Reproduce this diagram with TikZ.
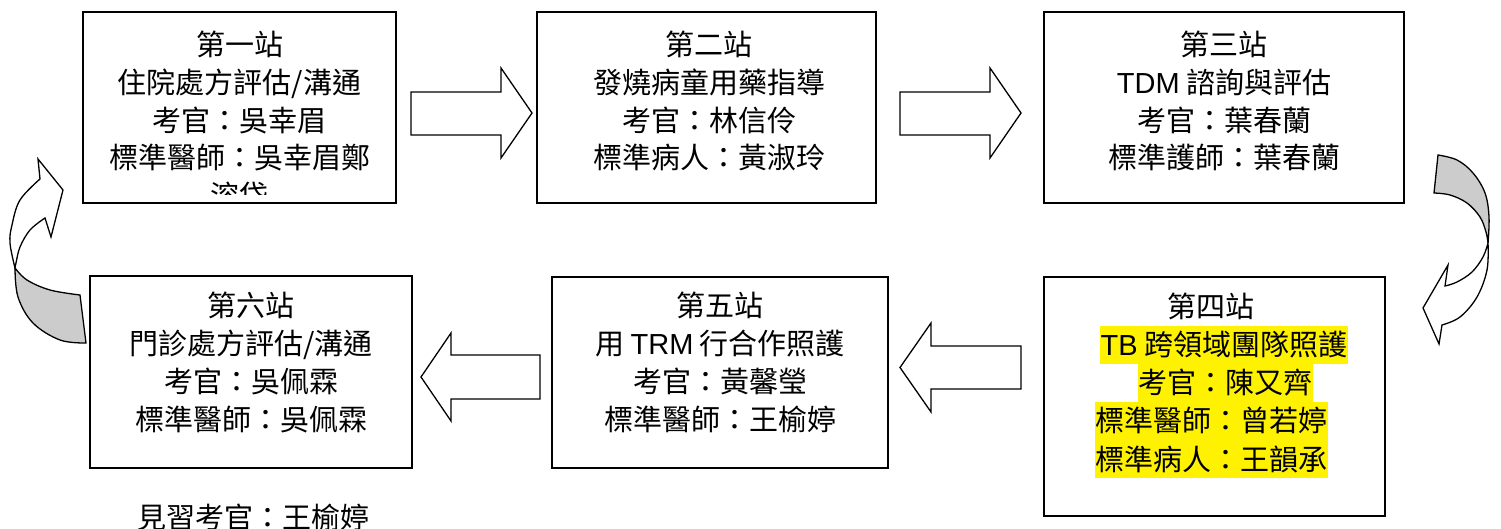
\documentclass[tikz,border=0pt]{standalone}
\usepackage{fontspec}
\setmainfont{Liberation Sans}
\newfontfamily\cjk{Noto Sans CJK TC}
\newfontfamily\latf{Liberation Sans}
\newcommand\lat[1]{{\latf #1}}
\tikzset{
  stationbox/.style={draw,line width=1.6pt,inner sep=0pt},
  ln/.style={anchor=base,inner sep=0pt,font=\cjk\fontsize{29pt}{35pt}\selectfont},
  hl/.style={ln,fill=yellow,inner xsep=0.5pt,inner ysep=0pt,text height=30pt,text depth=8pt},
  blockarrow/.style={draw,fill=white,line width=1.3pt,line join=miter},
  curvewhite/.style={draw,fill=white,line width=1.3pt,line join=miter},
  curvegray/.style={draw,fill=black!20,line width=1.3pt,line join=miter}
}
\begin{document}
\begin{tikzpicture}[x=1pt,y=-1pt]
\useasboundingbox (0,0) rectangle (1501,529);
\fill[white] (0,0) rectangle (1501,529);

% station boxes
\node[stationbox,minimum width=313pt,minimum height=191pt] (b1) at (239.5,107.5) {};
\node[stationbox,minimum width=339pt,minimum height=191pt] (b2) at (706.5,107.5) {};
\node[stationbox,minimum width=360pt,minimum height=191pt] (b3) at (1224,107.5) {};
\node[stationbox,minimum width=322pt,minimum height=192pt] (b6) at (251,372) {};
\node[stationbox,minimum width=336pt,minimum height=191pt] (b5) at (720,372.5) {};
\node[stationbox,minimum width=341pt,minimum height=239pt] (b4) at (1214.5,396.5) {};

% station 1
\node[ln] (s1a) at (239.5,56) {第一站};
\node[ln] (s1b) at (239.5,94) {住院處方評估/溝通};
\node[ln] (s1c) at (239.5,132) {考官：吳幸眉};
\node[ln] (s1d) at (239.5,169) {標準醫師：吳幸眉鄭};
\begin{scope}
\clip (84,13) rectangle (395,195);
\node[ln] (s1e) at (239.5,207) {溶岱};
\end{scope}

% station 2
\node[ln] (s2a) at (709,56) {第二站};
\node[ln] (s2b) at (709,94) {發燒病童用藥指導};
\node[ln] (s2c) at (709,132) {考官：林信伶};
\node[ln] (s2d) at (709,169) {標準病人：黃淑玲};

% station 3
\node[ln] (s3a) at (1224,56) {第三站};
\node[ln] (s3b) at (1224,94) {\lat{TDM} 諮詢與評估};
\node[ln] (s3c) at (1224,132) {考官：葉春蘭};
\node[ln] (s3d) at (1224,169) {標準護師：葉春蘭};

% station 4
\node[ln] (s4a) at (1211,317) {第四站};
\node[hl] (s4b) at (1224,355.5) {\lat{TB} 跨領域團隊照護};
\node[hl] (s4c) at (1225,393.5) {考官：陳又齊};
\node[hl] (s4d) at (1211,431.5) {標準醫師：曾若婷};
\node[hl] (s4e) at (1211,470) {標準病人：王韻承};

% station 5
\node[ln] (s5a) at (720,316) {第五站};
\node[ln] (s5b) at (720,354) {用 \lat{TRM} 行合作照護};
\node[ln] (s5c) at (720,392) {考官：黃馨瑩};
\node[ln] (s5d) at (720,430) {標準醫師：王榆婷};

% station 6
\node[ln] (s6a) at (251,316) {第六站};
\node[ln] (s6b) at (251,354) {門診處方評估/溝通};
\node[ln] (s6c) at (251,392) {考官：吳佩霖};
\node[ln] (s6d) at (251,430) {標準醫師：吳佩霖};

% trainee examiner
\node[ln] (note) at (253,528) {見習考官：王榆婷};

% block arrows
\draw[blockarrow] (411,92) -- (501,92) -- (501,68) -- (532,113) -- (501,158) -- (501,135) -- (411,135) -- cycle;
\draw[blockarrow] (900,92) -- (990,92) -- (990,68) -- (1021,113) -- (990,158) -- (990,135) -- (900,135) -- cycle;
\draw[blockarrow] (1021,346) -- (931,346) -- (931,323) -- (900,367.5) -- (931,412) -- (931,389) -- (1021,389) -- cycle;
\draw[blockarrow] (540,355) -- (451,355) -- (451,333) -- (421,377) -- (451,421) -- (451,399) -- (540,399) -- cycle;

% left curved arrow (station 6 -> station 1)
\draw[curvegray] (15,268) -- plot[smooth,tension=0.6] coordinates {(15,268) (18,297) (33,323) (60,340) (86,343)}
  -- (80,295) -- plot[smooth,tension=0.6] coordinates {(80,295) (50,290) (27,280) (15,268)} -- cycle;
\draw[curvewhite] (15,268) -- plot[smooth,tension=0.6] coordinates {(15,268) (10,243) (12,225) (20,200) (40,179)}
  -- (38,159) -- (63,190) -- (51,237) -- (45,218)
  -- plot[smooth,tension=0.6] coordinates {(45,218) (30,230) (20,247) (16,263) (15,268)} -- cycle;

% right curved arrow (station 3 -> station 4)
\draw[curvegray] (1438,155) -- plot[smooth,tension=0.6] coordinates {(1438,155) (1457,160) (1473,173) (1485,193) (1489,217) (1488,243)}
  -- plot[smooth,tension=0.6] coordinates {(1488,243) (1486,232) (1480,217) (1467,203) (1450,195) (1434,193)} -- cycle;
\draw[curvewhite] (1488,243) -- plot[smooth,tension=0.6] coordinates {(1488,243) (1483,257) (1472,272) (1457,282) (1445,286)}
  -- (1448,265) -- (1423,308) -- (1439,344) -- (1442,325)
  -- plot[smooth,tension=0.6] coordinates {(1442,325) (1460,317) (1477,297) (1487,270) (1488,243)} -- cycle;
\end{tikzpicture}
\end{document}
